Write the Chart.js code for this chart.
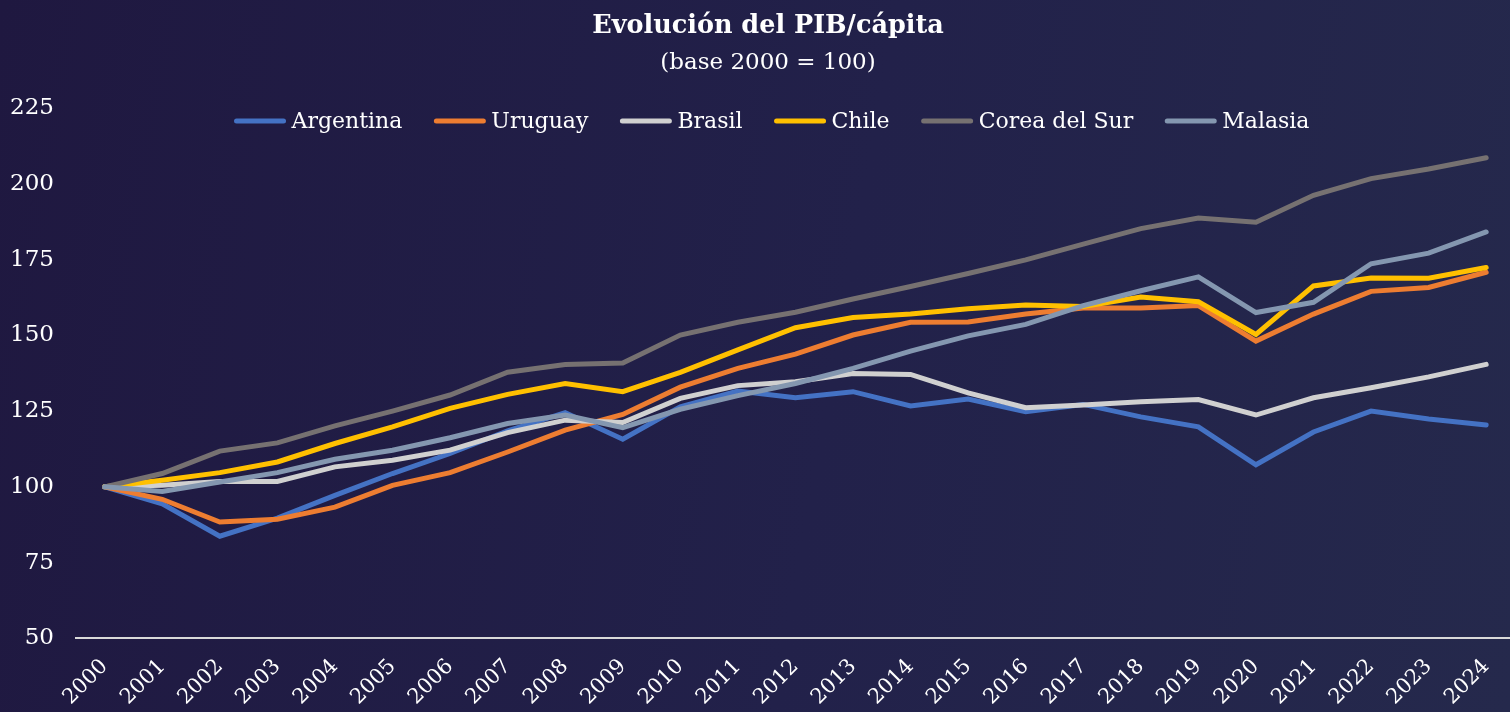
<!DOCTYPE html>
<html>
<head>
<meta charset="utf-8">
<script src="https://cdn.jsdelivr.net/npm/chart.js@4.4.1/dist/chart.umd.min.js"></script>
<style>
  html, body { margin: 0; padding: 0; overflow: hidden; }
  body {
    width: 1510px; height: 712px;
    background: linear-gradient(100deg, #1f1840 0%, #22214a 55%, #25294c 100%);
  }
  /* el lienzo se corre a la izquierda para que el eje Y quede pegado al borde */
  #contenedor { position: relative; width: 1540px; height: 726px; margin-left: -20px; }
</style>
</head>
<body>
<div id="contenedor"><canvas id="grafica"></canvas></div>
<script>
const anios = ["2000", "2001", "2002", "2003", "2004", "2005", "2006", "2007", "2008", "2009", "2010", "2011", "2012",
  "2013", "2014", "2015", "2016", "2017", "2018", "2019", "2020", "2021", "2022", "2023", "2024"];

const argentina = [100, 94.4, 83.7, 89.7, 97.2, 104.4, 111.0, 118.5, 124.5, 115.7, 126.4, 131.6, 129.4, 131.4, 126.7,
  129.0, 124.8, 127.2, 123.1, 119.8, 107.3, 118.1, 125.0, 122.4, 120.4];
const uruguay = [100, 95.9, 88.4, 89.3, 93.3, 100.5, 104.7, 111.5, 118.7, 123.9, 132.9, 139.1, 143.8, 150.1, 154.3,
  154.4, 157.0, 159.0, 159.0, 159.8, 148.1, 157.0, 164.5, 165.8, 170.8];
const brasil = [100, 100.5, 101.8, 101.8, 106.6, 108.8, 112.1, 117.9, 122.0, 121.2, 129.2, 133.4, 134.7, 137.4, 137.1,
  131.0, 126.1, 127.0, 128.1, 128.8, 123.7, 129.4, 132.7, 136.3, 140.4];
const chile = [100, 102.2, 104.7, 108.2, 114.3, 119.8, 125.9, 130.5, 134.1, 131.4, 137.8, 145.2, 152.5, 155.9, 157.0,
  158.8, 160.0, 159.5, 162.6, 161.1, 150.3, 166.3, 168.9, 168.8, 172.4];
const corea = [100, 104.4, 111.8, 114.5, 120.1, 125.0, 130.3, 137.8, 140.4, 140.9, 150.1, 154.3, 157.6, 162.0, 166.1,
  170.4, 174.9, 180.1, 185.2, 188.7, 187.3, 196.2, 201.7, 204.9, 208.6];
const malasia = [100, 98.5, 101.6, 104.7, 109.1, 112.1, 116.2, 120.9, 123.7, 119.5, 125.6, 130.1, 134.1, 139.1, 144.8,
  149.8, 153.6, 159.8, 164.7, 169.3, 157.5, 160.9, 173.6, 177.1, 184.1];

const titulo = "Evolución del PIB/cápita";
const subtitulo = "(base 2000 = 100)";

const fuente = "'DejaVu Serif', serif";
const corrimiento = 20; // mismo valor que margin-left del contenedor

function serie(nombre, datos, color, orden) {
  return {
    label: nombre,
    data: datos,
    borderColor: color,
    backgroundColor: color,
    borderWidth: 5,
    borderCapStyle: 'round',
    pointRadius: 0,
    pointHoverRadius: 0,
    tension: 0,
    order: orden
  };
}

// titulo, subtitulo y leyenda dibujados encima del area del grafico
const encabezado = {
  id: 'encabezado',
  afterDraw(chart) {
    const ctx = chart.ctx;
    ctx.save();
    ctx.fillStyle = '#ffffff';
    ctx.textAlign = 'center';
    ctx.textBaseline = 'middle';
    ctx.font = "bold 25.5px " + fuente;
    ctx.fillText(titulo, 768 + corrimiento, 26);
    ctx.font = "23px " + fuente;
    ctx.fillText(subtitulo, 768 + corrimiento, 63);

    ctx.font = "22px " + fuente;
    const largo = 51, hueco = 6, sep = 32;
    const items = chart.data.datasets;
    let total = 0;
    items.forEach((d, i) => {
      total += largo + hueco + ctx.measureText(d.label).width + (i < items.length - 1 ? sep : 0);
    });
    let x = 772 + corrimiento - total / 2;
    const y = 121;
    ctx.textAlign = 'left';
    items.forEach(d => {
      ctx.strokeStyle = d.borderColor;
      ctx.lineWidth = 5;
      ctx.lineCap = 'round';
      ctx.beginPath();
      ctx.moveTo(x + 2, y);
      ctx.lineTo(x + largo - 2, y);
      ctx.stroke();
      x += largo + hueco;
      ctx.fillText(d.label, x, y + 1);
      x += ctx.measureText(d.label).width + sep;
    });
    ctx.restore();
  }
};

const ctx = document.getElementById("grafica").getContext("2d");
new Chart(ctx, {
  type: 'line',
  data: {
    labels: anios,
    datasets: [
      serie('Argentina', argentina, '#4472c4', 6),
      serie('Uruguay', uruguay, '#ed7d31', 5),
      serie('Brasil', brasil, '#d0d0d0', 4),
      serie('Chile', chile, '#ffc000', 3),
      serie('Corea del Sur', corea, '#767171', 2),
      serie('Malasia', malasia, '#8497b0', 1)
    ]
  },
  options: {
    responsive: true,
    maintainAspectRatio: false,
    animation: false,
    layout: { padding: { top: 108, left: 8, right: 0, bottom: 0 } },
    plugins: {
      legend: { display: false },
      title: { display: false },
      tooltip: { enabled: false }
    },
    scales: {
      x: {
        offset: true,
        grid: { display: false, drawTicks: false },
        border: { display: true, color: '#d9d9d9', width: 2 },
        ticks: {
          color: '#ffffff',
          font: { family: fuente, size: 21 },
          maxRotation: 45,
          minRotation: 45,
          autoSkip: false,
          padding: 16
        }
      },
      y: {
        min: 50,
        max: 225,
        grid: { display: false, drawTicks: false },
        border: { display: false },
        ticks: {
          stepSize: 25,
          color: '#ffffff',
          font: { family: fuente, size: 23 },
          padding: 22
        }
      }
    }
  },
  plugins: [encabezado]
});
</script>
</body>
</html>
